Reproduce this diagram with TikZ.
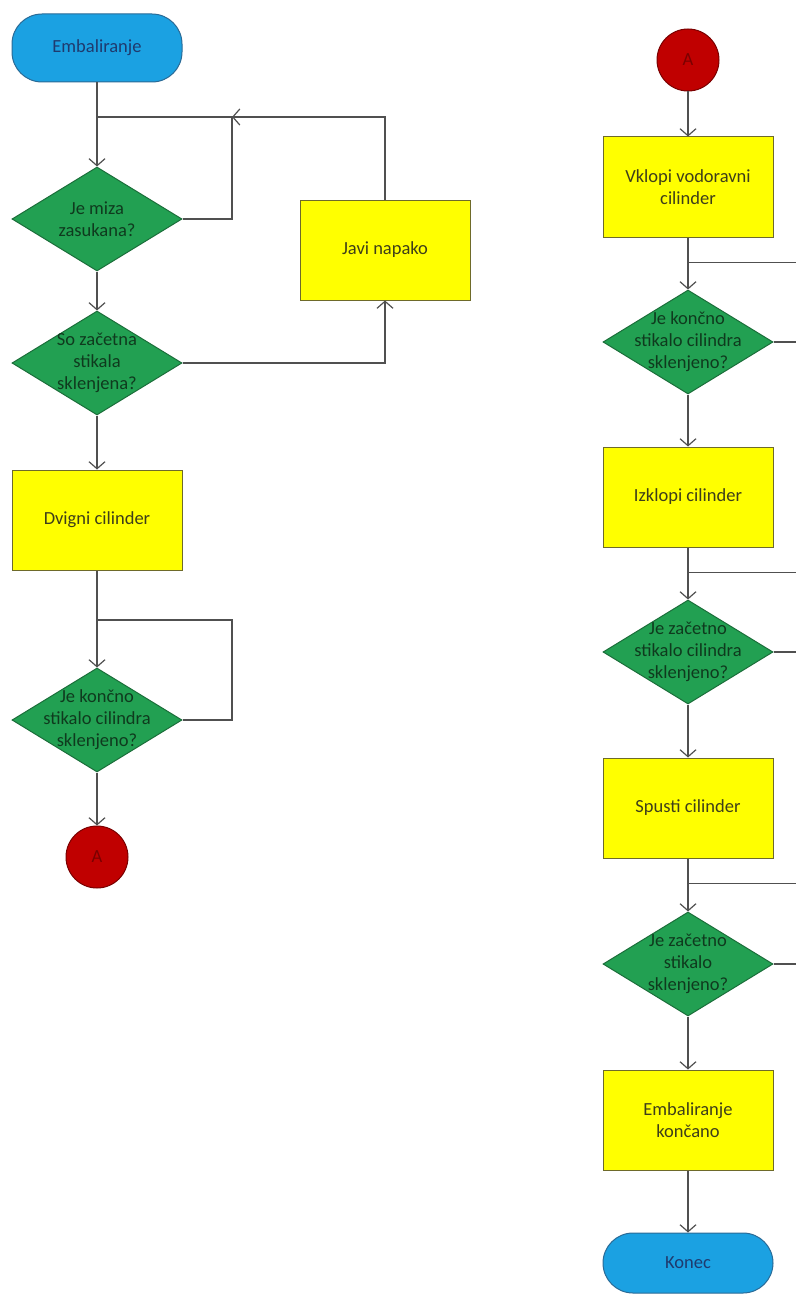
\documentclass[tikz,border=0pt]{standalone}
\usepackage{fontspec}
\setmainfont{Carlito}
\usepackage{xcolor}
\usetikzlibrary{arrows.meta,positioning,shapes.geometric,calc}
\definecolor{fcblue}{HTML}{1BA1E2}
\definecolor{fcbluedk}{HTML}{2A6A96}
\definecolor{fcnavy}{HTML}{1F3A6E}
\definecolor{fcyellow}{HTML}{FFFF00}
\definecolor{fcolive}{HTML}{6E6A2A}
\definecolor{fctxt}{HTML}{3E3E1A}
\definecolor{fcgreen}{HTML}{22A052}
\definecolor{fcgreendk}{HTML}{1B6E3A}
\definecolor{fcgreentx}{HTML}{0F3A1E}
\definecolor{fcred}{HTML}{C00000}
\definecolor{fcreddk}{HTML}{7A0000}
\definecolor{fcline}{HTML}{505050}

\begin{document}
\begin{tikzpicture}[x=1pt, y=-1pt, >={Straight Barb[length=7pt,width=16pt]},
  term/.style={draw=fcbluedk, fill=fcblue, line width=1pt, rounded corners=30pt,
    minimum width=170pt, minimum height=68pt, text=fcnavy,
    font=\fontsize{18.5}{22}\selectfont},
  proc/.style={draw=fcolive, fill=fcyellow, line width=1pt, minimum width=170pt,
    minimum height=100pt, align=center, text=fctxt,
    font=\fontsize{18.5}{22}\selectfont},
  dec/.style={diamond, draw=fcgreendk, fill=fcgreen, line width=1pt,
    minimum width=170pt, minimum height=104pt, inner sep=0pt},
  dtxt/.style={align=center, text=fcgreentx, font=\fontsize{18.5}{22}\selectfont},
  conn/.style={circle, draw=fcreddk, fill=fcred, line width=1pt, minimum size=62pt,
    inner sep=0pt, text=fcreddk, font=\fontsize{18.5}{22}\selectfont},
  line/.style={line width=1.2pt, draw=fcline},
  arr/.style={line, ->}]
\useasboundingbox (0,0) rectangle (796,1300);
% left column
\node[term] (emb) at (97,48) {Embaliranje};
\node[dec, below=84pt of emb, label={[dtxt]center:{Je miza\\zasukana?}}] (miza) {};
\node[dec, below=39pt of miza, label={[dtxt]center:{So začetna\\stikala\\sklenjena?}}] (stik) {};
\node[proc, below=54pt of stik] (dvig) {Dvigni cilinder};
\node[dec, below=97pt of dvig, label={[dtxt]center:{Je končno\\stikalo cilindra\\sklenjeno?}}] (konc) {};
\node[conn, below=53pt of konc] (ca) {A};
\node[proc] (napaka) at (385,250) {Javi napako};
\coordinate (top1) at (97,117);
\coordinate (back1) at (232,117);
\coordinate (top2) at (97,620);
\coordinate (back2) at (232,620);
\draw[arr] (emb) -- (miza);
\draw[line] (miza.east) -| (back1) -- (top1);
\draw[arr] (napaka.north) |- (back1);
\draw[arr] (miza) -- (stik);
\draw[arr] (stik.east) -| (napaka.south);
\draw[arr] (stik) -- (dvig);
\draw[arr] (dvig) -- (konc);
\draw[line] (konc.east) -| (back2) -- (top2);
\draw[arr] (konc) -- (ca);
% right column
\node[conn] (cb) at (688,60) {A};
\node[proc, below=45pt of cb] (vklop) {Vklopi vodoravni\\cilinder};
\node[dec, below=52pt of vklop, label={[dtxt]center:{Je končno\\stikalo cilindra\\sklenjeno?}}] (konc2) {};
\node[proc, below=52pt of konc2] (izklop) {Izklopi cilinder};
\node[dec, below=52pt of izklop, label={[dtxt]center:{Je začetno\\stikalo cilindra\\sklenjeno?}}] (zac1) {};
\node[proc, below=53pt of zac1] (spust) {Spusti cilinder};
\node[dec, below=53pt of spust, label={[dtxt]center:{Je začetno\\stikalo\\sklenjeno?}}] (zac2) {};
\node[proc, below=53pt of zac2] (konec) {Embaliranje\\končano};
\node[term, minimum height=60pt, below=62pt of konec] (end) {Konec};
\coordinate (rim) at (796,0);
\draw[arr] (cb) -- (vklop);
\draw[arr] (vklop) -- (konc2);
\draw[arr] (konc2) -- (izklop);
\draw[arr] (izklop) -- (zac1);
\draw[arr] (zac1) -- (spust);
\draw[arr] (spust) -- (zac2);
\draw[arr] (zac2) -- (konec);
\draw[arr] (konec) -- (end);
% loops leave the page on the right
\foreach \blk/\chk in {vklop/konc2, izklop/zac1, spust/zac2} {
  \coordinate (m-\chk) at ($(\blk.south)+(0,-25pt)$);
  \draw[line] (m-\chk) -- (m-\chk -| rim);
  \draw[line] (\chk.east) -- (\chk.east -| rim);
}
\end{tikzpicture}
\end{document}
